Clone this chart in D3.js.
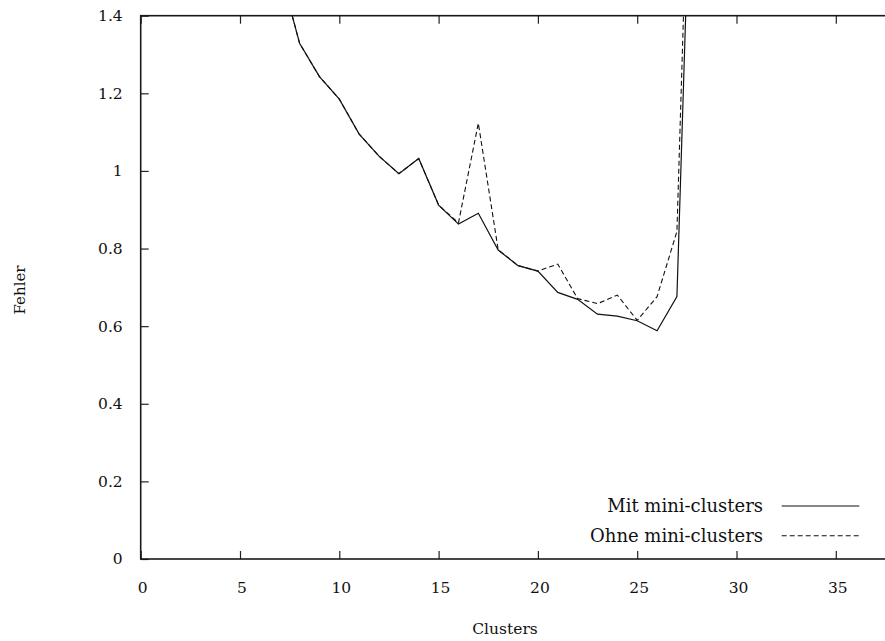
<!DOCTYPE html>
<html>
  <head>
    <meta charset="utf-8">
    <script src="https://d3js.org/d3.v7.min.js"></script>
    <title>Fehler vs Clusters</title>
    <style>
      body { margin: 0; background: #fff; }
      text { font-family: "DejaVu Serif", "Liberation Serif", serif; fill: #111; }
    </style>
  </head>
  <body>
    <svg width="885" height="641"></svg>
    <script>
      // Data
      const clusters = [7, 8, 9, 10, 11, 12, 13, 14, 15, 16, 17, 18, 19, 20, 21, 22, 23, 24, 25, 26, 27, 28];
      const mitMini  = [1.52, 1.329, 1.243, 1.185, 1.095, 1.038, 0.993, 1.032, 0.912, 0.863, 0.891, 0.796, 0.756, 0.742, 0.687, 0.669, 0.631, 0.626, 0.614, 0.588, 0.676, 2.32];
      const ohneMini = [1.52, 1.329, 1.243, 1.185, 1.095, 1.038, 0.993, 1.032, 0.912, 0.866, 1.123, 0.797, 0.756, 0.742, 0.760, 0.671, 0.658, 0.680, 0.615, 0.676, 0.844, 2.53];
      const xTicks = [0, 5, 10, 15, 20, 25, 30, 35];
      const yTicks = [0, 0.2, 0.4, 0.6, 0.8, 1, 1.2, 1.4];

      const svg = d3.select('svg');
      const plotLeft = 140.7, plotTop = 15.7, plotBottom = 559;
      const unitX = 19.86;
      const plotRight = plotLeft + unitX * 40;

      const xScale = d3.scaleLinear().domain([0, 40]).range([plotLeft, plotRight]);
      const yScale = d3.scaleLinear().domain([0, 1.4]).range([plotBottom, plotTop]);

      // clip to plot area
      svg.append('clipPath').attr('id', 'plot')
        .append('rect')
          .attr('x', plotLeft).attr('y', plotTop)
          .attr('width', plotRight - plotLeft).attr('height', plotBottom - plotTop);

      // axes with inward ticks, mirrored on top
      const tickLen = 8;
      svg.append('g')
        .attr('transform', `translate(1.5,${plotBottom})`)
        .call(d3.axisBottom(xScale).tickValues(xTicks).tickSizeInner(-tickLen).tickSizeOuter(0).tickPadding(23))
        .call(g => g.select('.domain').remove())
        .call(g => g.selectAll('.tick line').attr('transform', 'translate(-1.5,0)'));
      svg.append('g')
        .attr('transform', `translate(0,${plotTop})`)
        .call(d3.axisTop(xScale).tickValues(xTicks).tickSizeInner(-tickLen).tickSizeOuter(0).tickFormat(''))
        .call(g => g.select('.domain').remove());
      svg.append('g')
        .attr('transform', `translate(${plotLeft},0)`)
        .call(d3.axisLeft(yScale).tickValues(yTicks).tickSizeInner(-tickLen).tickSizeOuter(0).tickPadding(18)
          .tickFormat(d => d3.format('~g')(d)))
        .call(g => g.select('.domain').remove());

      svg.selectAll('.tick line').attr('stroke', '#222').attr('stroke-width', 1.2);
      svg.selectAll('.tick text').attr('font-size', 15.5).attr('font-family', '"DejaVu Serif", serif').attr('fill', '#111');

      // border
      svg.append('rect')
        .attr('x', plotLeft).attr('y', plotTop)
        .attr('width', plotRight - plotLeft).attr('height', plotBottom - plotTop)
        .attr('fill', 'none').attr('stroke', '#1a1a1a').attr('stroke-width', 1.6);

      // lines
      const line = vals => d3.line()
        .x((d, i) => xScale(clusters[i]))
        .y(d => yScale(d))(vals);

      const plot = svg.append('g').attr('clip-path', 'url(#plot)');
      plot.append('path').attr('d', line(ohneMini))
        .attr('fill', 'none').attr('stroke', '#111').attr('stroke-width', 1.1)
        .attr('stroke-dasharray', '5,3');
      plot.append('path').attr('d', line(mitMini))
        .attr('fill', 'none').attr('stroke', '#111').attr('stroke-width', 1.2);

      // legend
      const legend = [
        { label: 'Mit mini-clusters', dash: null, y: 506 },
        { label: 'Ohne mini-clusters', dash: '5,3', y: 535.7 }
      ];
      legend.forEach(l => {
        svg.append('text')
          .attr('x', 763).attr('y', l.y)
          .attr('dy', '0.35em')
          .attr('text-anchor', 'end')
          .attr('font-size', 18)
          .text(l.label);
        svg.append('line')
          .attr('x1', 781.7).attr('x2', 859.3)
          .attr('y1', l.y).attr('y2', l.y)
          .attr('stroke', '#111').attr('stroke-width', 1.1)
          .attr('stroke-dasharray', l.dash);
      });

      // axis titles
      svg.append('text')
        .attr('x', 505).attr('y', 629).attr('dy', '0.35em')
        .attr('text-anchor', 'middle').attr('font-size', 15.5)
        .text('Clusters');
      svg.append('text')
        .attr('transform', 'translate(20,290) rotate(-90)')
        .attr('dy', '0.35em')
        .attr('text-anchor', 'middle').attr('font-size', 15)
        .text('Fehler');
    </script>
  </body>
</html>
